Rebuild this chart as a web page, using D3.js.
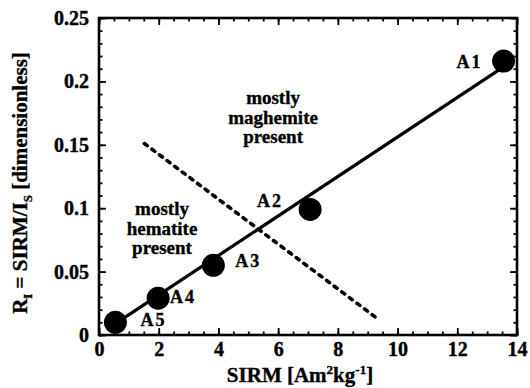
<!DOCTYPE html>
<html>
<head>
<meta charset="utf-8">
<script src="https://cdn.jsdelivr.net/npm/d3@7"></script>
<style>
  html, body { margin: 0; padding: 0; background: #fff; }
</style>
</head>
<body>
<svg id="chart" width="530" height="388"></svg>
<script>
// ---- data ----
const samples = ["A1", "A2", "A3", "A4", "A5"];
const sirm = [13.55, 7.07, 3.83, 1.98, 0.55];
const ri = [0.216, 0.099, 0.055, 0.029, 0.010];
const fitX = [0.55, 13.55];
const fitY = [0.009, 0.2114];
const dividerX = [1.52, 9.32];
const dividerY = [0.151, 0.013];
const xTicks = [0, 2, 4, 6, 8, 10, 12, 14];
const xTickLabels = ["0", "2", "4", "6", "8", "10", "12", "14"];
const yTicks = [0, 0.05, 0.1, 0.15, 0.2, 0.25];
const yTickLabels = ["0", "0.05", "0.1", "0.15", "0.2", "0.25"];
const regionTexts = [["mostly", "maghemite", "present"], ["mostly", "hematite", "present"]];
const regionX = [5.83, 2.11];
const regionY = [0.182, 0.0946];

// ---- layout ----
const FONT = "'Liberation Serif', 'DejaVu Serif', serif";
const svg = d3.select("#chart");
svg.append("rect").attr("width", 530).attr("height", 388).attr("fill", "#fff");
const x = d3.scaleLinear().domain([0, 14]).range([99, 517]);
const y = d3.scaleLinear().domain([0, 0.25]).range([335, 18]);
const labelOffsets = [[-21, 7, "end"], [-27, -2, "end"], [22, 2, "start"], [12, 5, "start"], [25, 4, "start"]];

const fontSize = 20;

function styleAxis(g) {
  g.attr("font-family", FONT).attr("font-size", fontSize).attr("font-weight", "bold");
  g.selectAll(".tick line").attr("stroke", "#000").attr("stroke-width", 1.8);
  g.selectAll(".tick text").attr("fill", "#000").attr("stroke", "#000").attr("stroke-width", 0.4);
  g.select(".domain").remove();
}

const xMinor = d3.range(0, 14.01, 0.5);
const yMinor = d3.range(0, 0.2501, 0.01);

// bottom
svg.append("g").attr("transform", `translate(0,${y(0)})`)
  .call(d3.axisBottom(x).tickValues(xMinor).tickSizeInner(-3.5).tickSizeOuter(0).tickFormat(""))
  .call(styleAxis);
svg.append("g").attr("transform", `translate(0,${y(0)})`)
  .call(d3.axisBottom(x).tickValues(xTicks).tickSizeInner(-7).tickSizeOuter(0).tickPadding(7)
    .tickFormat((d, i) => xTickLabels[i]))
  .call(styleAxis);
// top
svg.append("g").attr("transform", `translate(0,${y(0.25)})`)
  .call(d3.axisTop(x).tickValues(xMinor).tickSizeInner(-3.5).tickSizeOuter(0).tickFormat(""))
  .call(styleAxis);
svg.append("g").attr("transform", `translate(0,${y(0.25)})`)
  .call(d3.axisTop(x).tickValues(xTicks).tickSizeInner(-7).tickSizeOuter(0).tickFormat(""))
  .call(styleAxis);
// left
svg.append("g").attr("transform", `translate(${x(0)},0)`)
  .call(d3.axisLeft(y).tickValues(yMinor).tickSizeInner(-3.5).tickSizeOuter(0).tickFormat(""))
  .call(styleAxis);
svg.append("g").attr("transform", `translate(${x(0)},0)`)
  .call(d3.axisLeft(y).tickValues(yTicks).tickSizeInner(-7).tickSizeOuter(0).tickPadding(10)
    .tickFormat((d, i) => yTickLabels[i]))
  .call(styleAxis);
// right
svg.append("g").attr("transform", `translate(${x(14)},0)`)
  .call(d3.axisRight(y).tickValues(yMinor).tickSizeInner(-3.5).tickSizeOuter(0).tickFormat(""))
  .call(styleAxis);
svg.append("g").attr("transform", `translate(${x(14)},0)`)
  .call(d3.axisRight(y).tickValues(yTicks).tickSizeInner(-7).tickSizeOuter(0).tickFormat(""))
  .call(styleAxis);

// frame
svg.append("rect")
  .attr("x", x(0)).attr("y", y(0.25))
  .attr("width", x(14) - x(0)).attr("height", y(0) - y(0.25))
  .attr("fill", "none").attr("stroke", "#000").attr("stroke-width", 2.6);

// divider dashed line
const line = d3.line().x(d => x(d[0])).y(d => y(d[1]));
svg.append("path")
  .attr("d", line(dividerX.map((v, i) => [v, dividerY[i]])))
  .attr("fill", "none").attr("stroke", "#000").attr("stroke-width", 3.6)
  .attr("stroke-dasharray", "3.5,6").attr("stroke-linecap", "round");

// fit line
svg.append("path")
  .attr("d", line(fitX.map((v, i) => [v, fitY[i]])))
  .attr("fill", "none").attr("stroke", "#000").attr("stroke-width", 3.2);

// points
svg.selectAll("circle.pt").data(samples).enter().append("circle")
  .attr("class", "pt")
  .attr("cx", (d, i) => x(sirm[i])).attr("cy", (d, i) => y(ri[i]))
  .attr("r", 11.5).attr("fill", "#000");

const txt = sel => sel.attr("font-family", FONT).attr("font-weight", "bold").attr("fill", "#000")
  .attr("stroke", "#000").attr("stroke-width", 0.35);

// point labels
svg.selectAll("text.lbl").data(samples).enter().append("text")
  .attr("class", "lbl")
  .call(txt)
  .attr("x", (d, i) => x(sirm[i]) + labelOffsets[i][0])
  .attr("y", (d, i) => y(ri[i]) + labelOffsets[i][1])
  .attr("text-anchor", (d, i) => labelOffsets[i][2])
  .attr("font-size", 18).attr("letter-spacing", 2)
  .text(d => d);

// region annotations
regionTexts.forEach((lines, k) => {
  const t = svg.append("text").call(txt)
    .attr("text-anchor", "middle")
    .attr("font-size", 19);
  lines.forEach((s, j) => {
    t.append("tspan").attr("x", x(regionX[k])).attr("y", y(regionY[k]) + j * 19.5).text(s);
  });
});

// x title
const xt = svg.append("text").call(txt).attr("x", 300).attr("y", 382).attr("text-anchor", "middle").attr("font-size", 21);
xt.append("tspan").text("SIRM [Am");
xt.append("tspan").attr("dy", -8).attr("font-size", 13).text("2");
xt.append("tspan").attr("dy", 8).text("kg");
xt.append("tspan").attr("dy", -8).attr("font-size", 13).text("-1");
xt.append("tspan").attr("dy", 8).text("]");

// y title
const yt = svg.append("text").call(txt)
  .attr("transform", "translate(27,183) rotate(-90)")
  .attr("text-anchor", "middle").attr("font-size", 21);
yt.append("tspan").text("R");
yt.append("tspan").attr("dy", 5).attr("font-size", 13).text("I");
yt.append("tspan").attr("dy", -5).text(" = SIRM/I");
yt.append("tspan").attr("dy", 5).attr("font-size", 13).text("S");
yt.append("tspan").attr("dy", -5).text(" [dimensionless]");
</script>
</body>
</html>
